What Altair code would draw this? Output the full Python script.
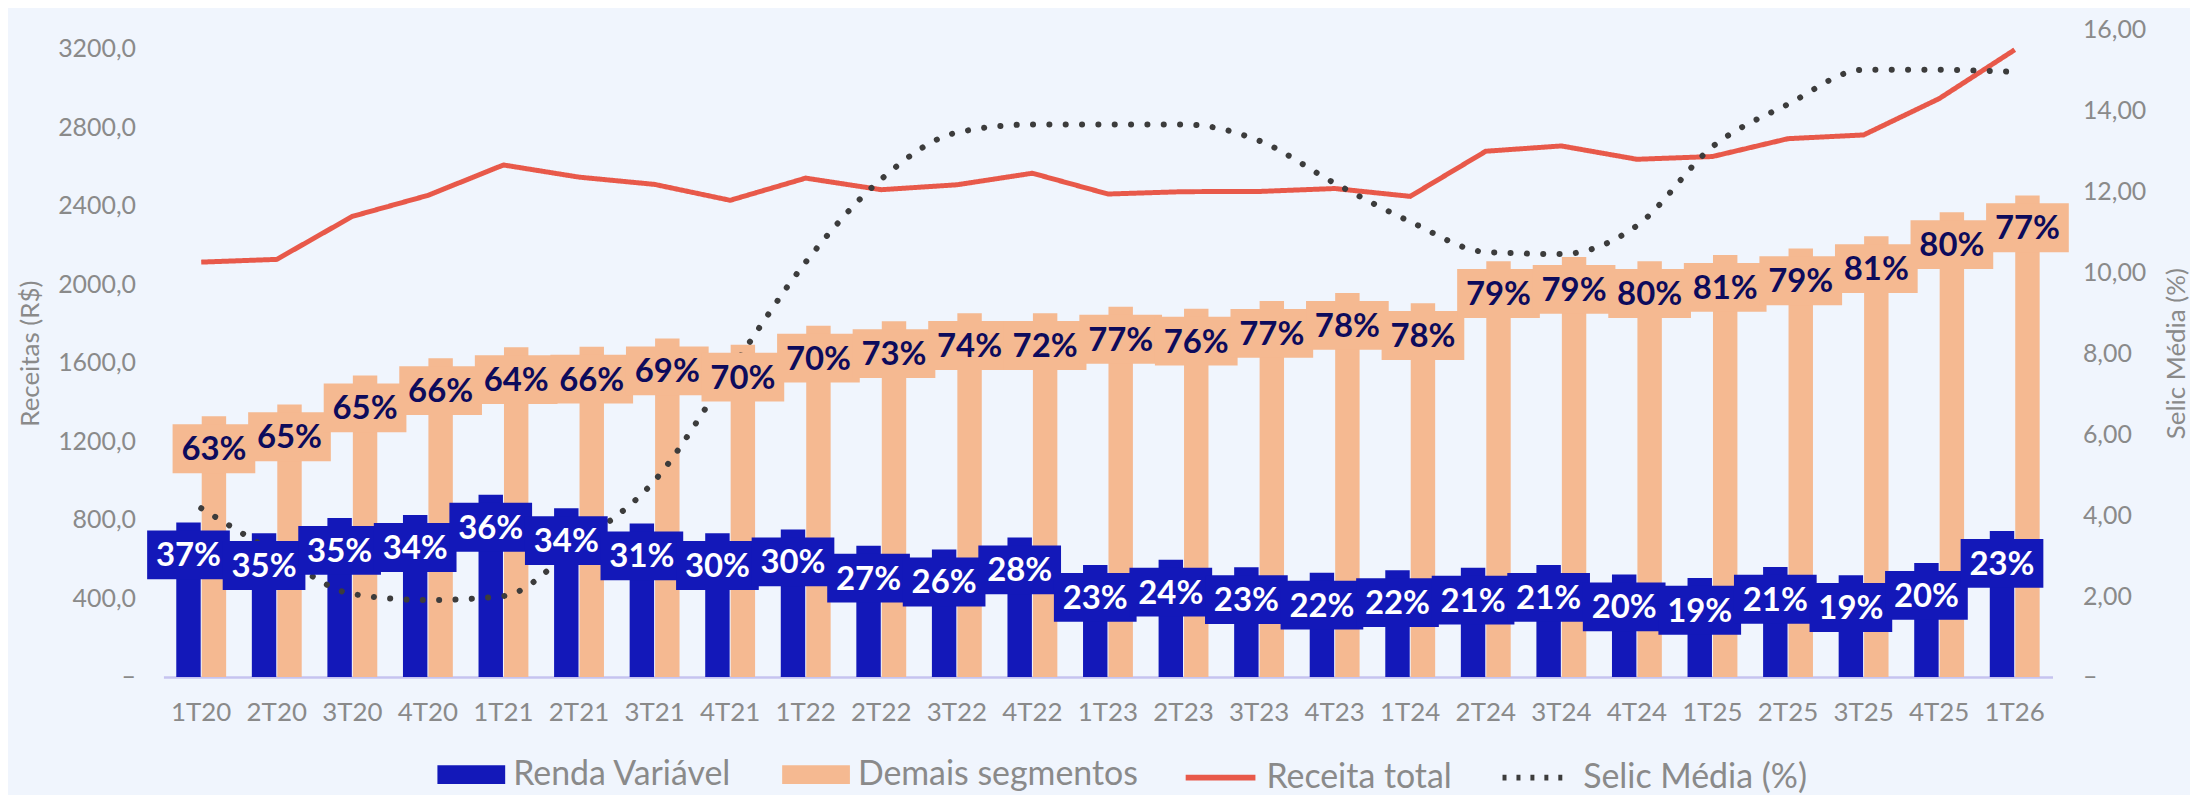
import altair as alt
import pandas as pd

quarters = ["1T20", "2T20", "3T20", "4T20", "1T21", "2T21", "3T21", "4T21",
            "1T22", "2T22", "3T22", "4T22", "1T23", "2T23", "3T23", "4T23",
            "1T24", "2T24", "3T24", "4T24", "1T25", "2T25", "3T25", "4T25", "1T26"]
renda = [787, 733, 810, 825, 928, 860, 782, 733, 752, 669, 649, 711, 571,
         597, 559, 531, 544, 557, 571, 522, 505, 561, 519, 581, 744]
demais = [1328, 1389, 1536, 1624, 1680, 1683, 1725, 1693, 1790, 1813, 1854, 1854, 1886,
          1876, 1916, 1957, 1905, 2119, 2140, 2119, 2150, 2184, 2246, 2368, 2454]
pct_renda = [37, 35, 35, 34, 36, 34, 31, 30, 30, 27, 26, 28, 23,
             24, 23, 22, 22, 21, 21, 20, 19, 21, 19, 20, 23]
pct_demais = [63, 65, 65, 66, 64, 66, 69, 70, 70, 73, 74, 72, 77,
              76, 77, 78, 78, 79, 79, 80, 81, 79, 81, 80, 77]
total = [2114, 2128, 2347, 2454, 2609, 2547, 2510, 2429, 2542, 2483, 2508, 2567, 2461,
         2473, 2474, 2489, 2449, 2679, 2706, 2638, 2652, 2743, 2762, 2947, 3196]
selic = [4.17, 3.05, 2.05, 1.90, 2.00, 3.30, 4.85, 7.56, 10.25, 12.30, 13.45, 13.65, 13.65,
         13.65, 13.25, 12.20, 11.25, 10.50, 10.45, 11.15, 13.10, 14.15, 15.00, 15.00, 14.95]

S_RV = "Renda Variável"
S_DS = "Demais segmentos"
L_RT = "Receita total"
L_SM = "Selic Média (%)"

BG = "#f0f5fd"
BLUE = "#1318b9"
PEACH = "#f5b991"
RED = "#e8594a"
DOT = "#3c3c3c"
NAVY = "#0d0b5c"
GRAY = "#8a8a8a"
BASE = "#c6c3ef"
FONT = "Lato"

n = len(quarters)
bars_df = pd.DataFrame({
    "trimestre": quarters * 2,
    "serie": [S_RV] * n + [S_DS] * n,
    "valor": renda + demais,
    "pct": pct_renda + pct_demais,
})
bars_df["rotulo"] = bars_df["pct"].astype(str) + "%"
total_df = pd.DataFrame({"trimestre": quarters, "valor": total, "linha": L_RT})
selic_df = pd.DataFrame({"trimestre": quarters, "valor": selic, "linha": L_SM})

x_enc = alt.X(
    "trimestre:N", sort=quarters,
    scale=alt.Scale(domain=quarters, paddingInner=0.34, paddingOuter=0.17),
    axis=alt.Axis(title=None, labelAngle=0, labelFontSize=26, labelColor=GRAY, labelFont=FONT,
                  labelPadding=23, ticks=False, tickSize=0, domainColor=BASE, domainWidth=2.5,
                  grid=False),
)
xoff = alt.XOffset("serie:N", sort=[S_RV, S_DS],
                   scale=alt.Scale(domain=[S_RV, S_DS], paddingInner=0.04, paddingOuter=0))

yL_scale = alt.Scale(domain=[0, 3300], nice=False)
left_axis = alt.Axis(
    values=list(range(0, 3201, 400)),
    labelExpr="datum.value == 0 ? '–\u2007' : replace(format(datum.value, '.1f'), '.', ',')",
    title="Receitas (R$)", titleFontSize=26, titleColor=GRAY, titleFontWeight="normal",
    titleFont=FONT, titlePadding=14,
    labelFontSize=25, labelColor=GRAY, labelFont=FONT, labelPadding=28,
    ticks=False, tickSize=0, domain=False, grid=False,
)
right_axis = alt.Axis(
    orient="right", values=list(range(0, 17, 2)),
    labelExpr="datum.value == 0 ? '–' : replace(format(datum.value, '.2f'), '.', ',')",
    title=L_SM, titleFontSize=26, titleColor=GRAY, titleFontWeight="normal",
    titleFont=FONT, titlePadding=18, titleAngle=270, titleBaseline="top",
    labelFontSize=25, labelColor=GRAY, labelFont=FONT, labelPadding=30,
    ticks=False, tickSize=0, domain=False, grid=False,
)

bar_legend = alt.Legend(
    title=None, orient="none", legendX=275, legendY=714, direction="horizontal",
    symbolType="M-1,-0.28H1V0.28H-1Z", symbolSize=4624, symbolStrokeWidth=0,
    labelFontSize=34, labelColor=GRAY, labelFont=FONT, labelOffset=8, labelLimit=500,
    columnPadding=50, padding=0,
)
line_legend = alt.Legend(
    title=None, orient="none", legendX=1023, legendY=713, direction="horizontal",
    symbolType="stroke", symbolSize=4900, symbolStrokeWidth=6,
    labelFontSize=34, labelColor=GRAY, labelFont=FONT, labelOffset=8, labelLimit=500,
    columnPadding=38, padding=0,
)

color_enc = alt.Color("serie:N", scale=alt.Scale(domain=[S_RV, S_DS], range=[BLUE, PEACH]),
                      legend=bar_legend)
stroke_enc = alt.Stroke("linha:N", scale=alt.Scale(domain=[L_RT, L_SM], range=[RED, DOT]),
                        legend=line_legend)
dash_enc = alt.StrokeDash("linha:N", scale=alt.Scale(domain=[L_RT, L_SM], range=[[1, 0], [4, 10]]),
                          legend=line_legend)

base_bars = alt.Chart(bars_df)

bars = base_bars.mark_bar().encode(
    x=x_enc, xOffset=xoff,
    y=alt.Y("valor:Q", scale=yL_scale, axis=left_axis),
    color=color_enc,
)

total_line = alt.Chart(total_df).mark_line(strokeWidth=5).encode(
    x=x_enc,
    y=alt.Y("valor:Q", scale=yL_scale, axis=None),
    stroke=stroke_enc, strokeDash=dash_enc,
)

selic_line = alt.Chart(selic_df).mark_line(
    strokeWidth=6, strokeCap="round", strokeDash=[0.1, 16.3], interpolate="monotone"
).encode(
    x=x_enc,
    y=alt.Y("valor:Q", scale=alt.Scale(domain=[0, 16], nice=False), axis=right_axis),
    stroke=stroke_enc,
)

boxes = base_bars.mark_bar(width=83, yOffset=8, y2Offset=57).encode(
    x=x_enc, xOffset=xoff,
    y=alt.Y("valor:Q", scale=yL_scale, axis=None),
    y2=alt.Y2("valor:Q"),
    color=color_enc,
)

text_rv = base_bars.transform_filter(alt.datum.serie == S_RV).mark_text(
    dy=34, baseline="middle", align="center", fontSize=33, fontWeight="bold",
    font=FONT, color="white"
).encode(
    x=x_enc, xOffset=xoff,
    y=alt.Y("valor:Q", scale=yL_scale, axis=None),
    text="rotulo:N",
)
text_ds = base_bars.transform_filter(alt.datum.serie == S_DS).mark_text(
    dy=34, baseline="middle", align="center", fontSize=33, fontWeight="bold",
    font=FONT, color=NAVY
).encode(
    x=x_enc, xOffset=xoff,
    y=alt.Y("valor:Q", scale=yL_scale, axis=None),
    text="rotulo:N",
)

chart = alt.layer(
    bars, total_line, selic_line, boxes, text_rv, text_ds
).resolve_scale(
    y="independent"
).properties(
    width=1896, height=650,
    autosize=alt.AutoSizeParams(type="none"),
    padding={"left": 156, "top": 20, "right": 138, "bottom": 117},
).configure(
    background=BG, font=FONT
).configure_view(
    stroke=None
)

chart.save("out.html", embed_options={"renderer": "svg", "actions": False})
